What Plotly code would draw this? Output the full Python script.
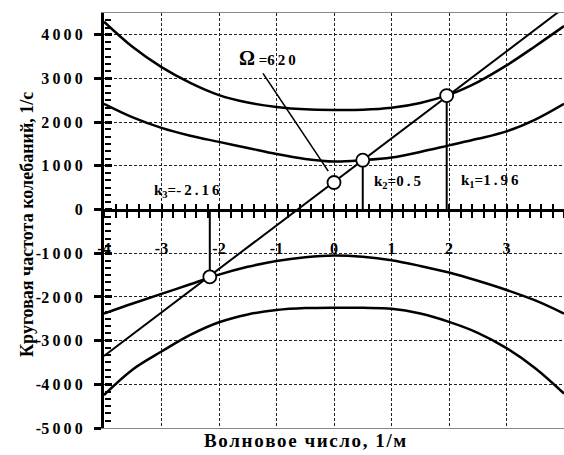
import plotly.graph_objects as go

# ---- data ----
k = [-4, -3.5, -3, -2.5, -2, -1.5, -1, -0.5, 0, 0.5, 1, 1.5, 2, 2.5, 3, 3.5, 4]
w_top = [4300, 3720, 3260, 2900, 2620, 2450, 2350, 2295, 2280, 2285, 2330, 2440, 2630, 2920, 3300, 3740, 4200]
w_mid = [2420, 2110, 1870, 1690, 1550, 1410, 1270, 1160, 1100, 1130, 1190, 1320, 1470, 1620, 1790, 2060, 2420]
w_mid_neg = [-2380, -2150, -1930, -1710, -1490, -1310, -1175, -1090, -1050, -1080, -1160, -1290, -1440, -1630, -1840, -2080, -2380]
w_bot_neg = [-4245, -3660, -3250, -2870, -2580, -2400, -2300, -2255, -2245, -2250, -2270, -2380, -2570, -2820, -3170, -3630, -4210]

line_k = [-4, 4]
line_w = [-3350, 4620]

pt_k = [1.96, 0.5, -2.16, 0]
pt_w = [2610, 1130, -1540, 620]

x_ticks = [-4, -3, -2, -1, 0, 1, 2, 3, 4]
y_ticks = [4000, 3000, 2000, 1000, 0, -1000, -2000, -3000, -4000, -5000]

SERIF = "Liberation Serif"
TS = "\u2009"
HS = "\u200a"


def spaced(s, sep=TS):
    return sep.join(list(s))


fig = go.Figure()

for ws in (w_top, w_mid, w_mid_neg, w_bot_neg):
    fig.add_trace(go.Scatter(x=k, y=ws, mode="lines", xaxis="x", yaxis="y",
                             line=dict(color="black", width=2.5, shape="spline", smoothing=1.0),
                             hoverinfo="skip", showlegend=False))

fig.add_trace(go.Scatter(x=line_k, y=line_w, mode="lines", xaxis="x2", yaxis="y",
                         line=dict(color="black", width=2), showlegend=False))

for kk, ww in zip(pt_k[:3], pt_w[:3]):
    fig.add_trace(go.Scatter(x=[kk, kk], y=[ww, 0], mode="lines", xaxis="x2", yaxis="y",
                             line=dict(color="black", width=2), showlegend=False))

fig.add_trace(go.Scatter(x=pt_k, y=pt_w, mode="markers", xaxis="x3", yaxis="y2",
                         marker=dict(size=13, color="white", line=dict(color="black", width=1.8)),
                         showlegend=False))

pos0 = 5000 / 9500.0
grid = dict(showgrid=True, gridcolor="#222", gridwidth=1, griddash="3px,2px")

fig.update_layout(
    width=564, height=455,
    margin=dict(l=104, r=0, t=13, b=27),
    paper_bgcolor="white", plot_bgcolor="white",
    showlegend=False,
    xaxis=dict(range=[-4, 4], dtick=1, tick0=0, showticklabels=False, ticks="",
               zeroline=False, showline=True, linecolor="#888", linewidth=1, mirror=True,
               **grid),
    xaxis2=dict(range=[-4, 4], overlaying="x", anchor="free", position=pos0,
                tickvals=x_ticks, ticktext=[str(v) for v in x_ticks],
                ticks="outside", ticklen=6, tickwidth=2, tickcolor="black",
                minor=dict(dtick=0.2, tick0=0, ticks="outside", ticklen=6, tickwidth=2, tickcolor="black"),
                showline=True, linecolor="black", linewidth=3, showgrid=False, zeroline=False,
                tickfont=dict(family=SERIF, size=16, color="black", weight="bold"),
                ticklabelstandoff=17),
    xaxis3=dict(range=[-4, 4], overlaying="x", anchor="free", position=pos0,
                dtick=1, tick0=0, ticks="inside", ticklen=6, tickwidth=2, tickcolor="black",
                minor=dict(dtick=0.2, tick0=0, ticks="inside", ticklen=6, tickwidth=2, tickcolor="black"),
                showticklabels=False, showline=False, showgrid=False, zeroline=False),
    yaxis=dict(range=[-5000, 4500], tickvals=y_ticks,
               ticktext=[("-" if v < 0 else "") + spaced(str(abs(v))) for v in y_ticks],
               ticks="outside", ticklen=7, tickwidth=3, tickcolor="black",
               showline=True, linecolor="black", linewidth=3, zeroline=False,
               tickfont=dict(family=SERIF, size=16, color="black", weight="bold"),
               ticklabelstandoff=8, **grid),
    yaxis2=dict(range=[-5000, 4500], overlaying="y", anchor="free", position=0,
                dtick=1000, tick0=0, ticks="inside", ticklen=7, tickwidth=3, tickcolor="black",
                minor=dict(dtick=1000 / 6.0, tick0=0, ticks="inside", ticklen=6, tickwidth=2, tickcolor="black"),
                showticklabels=False, showline=False, showgrid=False, zeroline=False),
)

lbl = dict(family=SERIF, size=15, color="black", weight="bold")

# pointer from the Ω label toward the Ω point
fig.add_shape(type="line", xref="x", yref="y", x0=-1.235, y0=3119, x1=-0.1, y1=880,
              line=dict(color="black", width=1.6))
fig.add_annotation(x=-1.15, y=3460, xref="x", yref="y", showarrow=False,
                   text="<span style='font-size:20px'>Ω</span> =" + spaced("620"), font=lbl)
fig.add_annotation(x=2.17, y=660, xref="x", yref="y", showarrow=False, xanchor="left",
                   text="k<sub>1</sub>=" + spaced("1.96"), font=lbl)
fig.add_annotation(x=0.66, y=620, xref="x", yref="y", showarrow=False, xanchor="left",
                   text="k<sub>2</sub>=" + spaced("0.5"), font=lbl)
fig.add_annotation(x=-3.17, y=420, xref="x", yref="y", showarrow=False, xanchor="left",
                   text="k<sub>3</sub>=" + spaced("-2.16"), font=lbl)

fig.add_annotation(x=(305 - 104) / 460.0, y=-0.03, xref="paper", yref="paper", yanchor="middle",
                   showarrow=False, text=spaced("Волновое число, 1/м", HS),
                   font=dict(family=SERIF, size=19, color="black", weight="bold"))
fig.add_annotation(x=-0.195, y=0.49, xref="paper", yref="paper", textangle=-90,
                   showarrow=False, text="Круговая частота колебаний, 1/с",
                   font=dict(family=SERIF, size=18, color="black", weight="bold"))

fig.write_html("out.html")
